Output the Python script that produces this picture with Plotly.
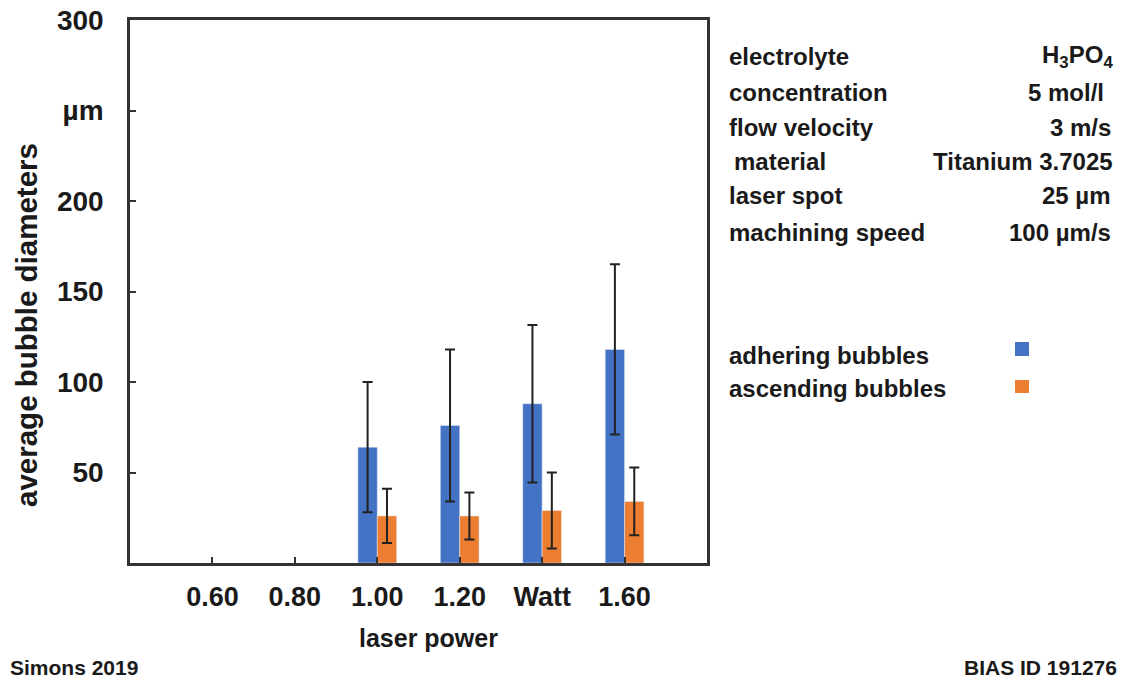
import plotly.graph_objects as go

# ---- data ----
power = [0.60, 0.80, 1.00, 1.20, 1.40, 1.60]
tick_labels = ["0.60", "0.80", "1.00", "1.20", "Watt", "1.60"]
adhering = [None, None, 64, 76, 88, 118]
adhering_err = [None, None, 36, 42, 43.5, 47]
ascending = [None, None, 26, 26, 29, 34]
ascending_err = [None, None, 15, 13, 21, 18.7]
y_tickvals = [50, 100, 150, 200, 250, 300]
y_ticktext = ["50", "100", "150", "200", "µm", "300"]

info_labels = ["electrolyte", "concentration", "flow velocity", "material", "laser spot", "machining speed"]
info_values = ["H<sub>3</sub>PO<sub>4</sub>", "5 mol/l", "3 m/s", "Titanium 3.7025", "25 µm", "100 µm/s"]
legend_names = ["adhering bubbles", "ascending bubbles"]

BLUE = "#4472C4"
ORANGE = "#ED7D31"
AX = "#333333"
FONT = "Liberation Sans"
TXT = "#1a1a1a"

W, H = 1125, 680
L, R, T, B = 130, 418, 20, 117
PW, PH = W - L - R, H - T - B


def px(x):
    return (x - L) / PW


def py(y):
    return (H - B - y) / PH


fig = go.Figure()
fig.add_trace(go.Bar(
    x=power, y=adhering, name=legend_names[0], marker_color=BLUE,
    error_y=dict(type="data", array=adhering_err, color="#222222", thickness=2, width=5),
))
fig.add_trace(go.Bar(
    x=power, y=ascending, name=legend_names[1], marker_color=ORANGE,
    error_y=dict(type="data", array=ascending_err, color="#222222", thickness=2, width=5),
))

fig.update_layout(
    width=W, height=H,
    margin=dict(l=L, r=R, t=T, b=B, autoexpand=False),
    paper_bgcolor="white", plot_bgcolor="white",
    barmode="group", bargap=0.53, bargroupgap=0,
    showlegend=False,
    font=dict(family=FONT, color=TXT),
)
fig.update_xaxes(
    range=[0.4, 1.8], tickvals=power, ticktext=tick_labels,
    ticks="inside", ticklen=6, tickwidth=2, tickcolor=AX,
    showline=True, linecolor=AX, linewidth=2.5, mirror=True,
    showgrid=False, zeroline=False, automargin=False,
    tickfont=dict(size=27, family=FONT, weight="bold", color=TXT),
    ticklabelstandoff=8,
)
fig.update_yaxes(
    range=[0, 300], tickvals=y_tickvals, ticktext=y_ticktext,
    ticks="inside", ticklen=6, tickwidth=2, tickcolor=AX,
    showline=True, linecolor=AX, linewidth=2.5, mirror=True,
    showgrid=False, zeroline=False, automargin=False,
    tickfont=dict(size=28, family=FONT, weight="bold", color=TXT),
    ticklabelstandoff=18,
)

ann = []
# y axis title
ann.append(dict(x=px(26), y=py(325), xref="paper", yref="paper", text="average bubble diameters",
                textangle=-90, showarrow=False, xanchor="center", yanchor="middle",
                font=dict(size=29.5, family=FONT, weight="bold", color=TXT)))
# x axis title
ann.append(dict(x=px(428), y=py(638), xref="paper", yref="paper", text="laser power",
                showarrow=False, xanchor="center", yanchor="middle",
                font=dict(size=25, family=FONT, weight="bold", color=TXT)))
# info block
rows_y = [56, 92, 127, 161, 196, 232]
left_x = [727, 727, 727, 732, 727, 727]
right_x = [1115, 1106, 1113, 1115, 1113, 1113]
for lab, val, yy, lx, rx in zip(info_labels, info_values, rows_y, left_x, right_x):
    ann.append(dict(x=px(lx), y=py(yy), xref="paper", yref="paper", text=lab, showarrow=False,
                    xanchor="left", yanchor="middle",
                    font=dict(size=24, family=FONT, weight="bold", color=TXT)))
    ann.append(dict(x=px(rx), y=py(yy), xref="paper", yref="paper", text=val, showarrow=False,
                    xanchor="right", yanchor="middle",
                    font=dict(size=24, family=FONT, weight="bold", color=TXT)))
# legend texts
for name, yy in zip(legend_names, [355, 389]):
    ann.append(dict(x=px(727), y=py(yy), xref="paper", yref="paper", text=name, showarrow=False,
                    xanchor="left", yanchor="middle",
                    font=dict(size=24, family=FONT, weight="bold", color=TXT)))
# footer
ann.append(dict(x=px(8), y=py(667), xref="paper", yref="paper", text="Simons 2019", showarrow=False,
                xanchor="left", yanchor="middle",
                font=dict(size=21, family=FONT, weight="bold", color=TXT)))
ann.append(dict(x=px(1119), y=py(667), xref="paper", yref="paper", text="BIAS ID 191276", showarrow=False,
                xanchor="right", yanchor="middle",
                font=dict(size=21, family=FONT, weight="bold", color=TXT)))
fig.update_layout(annotations=ann)

# legend squares
shapes = []
for col, (y0, y1) in zip([BLUE, ORANGE], [(342, 356), (380, 393)]):
    shapes.append(dict(type="rect", xref="paper", yref="paper",
                       x0=px(1015), x1=px(1029), y0=py(y1), y1=py(y0),
                       fillcolor=col, line=dict(width=0)))
fig.update_layout(shapes=shapes)

fig.write_html("out.html", config={"displayModeBar": False},
               post_script="document.body.style.margin='0';document.body.style.overflow='hidden';")
